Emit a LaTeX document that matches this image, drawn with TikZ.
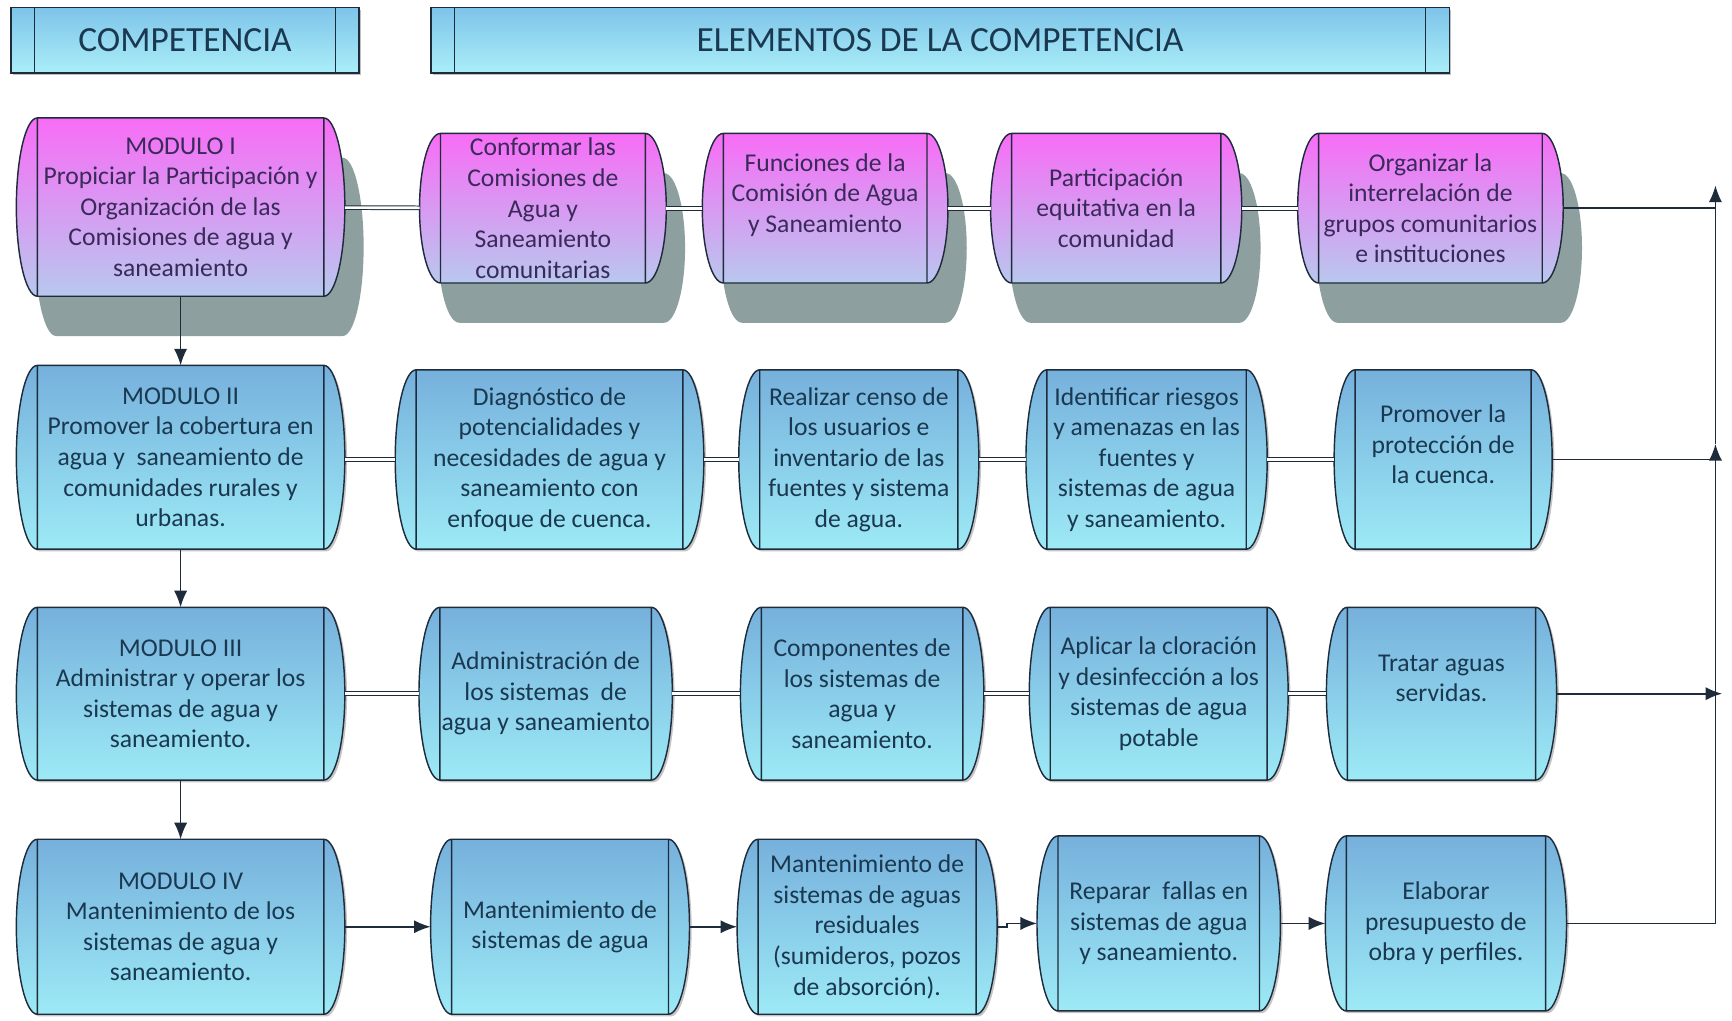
\documentclass[tikz,border=0pt]{standalone}
\usepackage{fontspec}
\setmainfont{Carlito}
\usetikzlibrary{arrows.meta,shadows,calc}
\pgfdeclarelayer{fondo}
\pgfsetlayers{fondo,main}
\definecolor{rosa}{HTML}{F86CF6}
\definecolor{lila}{HTML}{B8C8EE}
\definecolor{azul}{HTML}{76B0DC}
\definecolor{celeste}{HTML}{9DEAF6}
\definecolor{cabarriba}{HTML}{7EC4E9}
\definecolor{cababajo}{HTML}{AAEEF8}
\definecolor{borde}{HTML}{1E2B3A}
\definecolor{sombra}{HTML}{8E9F9F}
\definecolor{letraazul}{HTML}{1A3850}
\definecolor{letrarosa}{HTML}{3A2A5A}

\begin{document}
\begin{tikzpicture}[x=1pt,y=1pt,
    caja/.style={inner sep=0pt,align=center,text=letraazul,font=\fontsize{23.2}{27.7}\selectfont},
    cajarosa/.style={caja,text=letrarosa},
    tam/.style 2 args={minimum width=#1pt,minimum height=#2pt},
    titulo/.style={draw=borde,line width=1.3pt,top color=cabarriba,bottom color=cababajo,inner sep=0pt,minimum height=59pt,text=letraazul,font=\fontsize{32}{36}\selectfont,drop shadow={shadow xshift=2pt,shadow yshift=-2pt,opacity=.5}},
    forma/.style={draw=borde,line width=1.3pt},
    enlace/.style={draw=borde,line width=.9pt,double=white,double distance=2.4pt},
    linea/.style={draw=borde,line width=1.5pt},
    flecha/.style={linea,-{Latex[length=15pt,width=12pt]}}]
    \begin{pgfonlayer}{fondo}
        \fill[white] (0,0) rectangle (1568,924);
    \end{pgfonlayer}
    \useasboundingbox (0,0) rectangle (1568,924);
    % titulos
    \node[titulo,minimum width=315pt] (h1) at (167.5,887.5) {COMPETENCIA};
    \node[titulo,minimum width=922pt] (h2) at (851,887.5) {ELEMENTOS DE LA COMPETENCIA};
    \foreach \k in {h1,h2}
        \draw[borde,line width=1.3pt] ([xshift=22pt]\k.north west) -- ([xshift=22pt]\k.south west)
            ([xshift=-22pt]\k.north east) -- ([xshift=-22pt]\k.south east);
    % modulo I
    \node[cajarosa,tam={297}{161}] (m1) at (163.5,736.5) {MODULO I\\Propiciar la Participación y\\Organización de las\\Comisiones de agua y\\saneamiento};
    \node[cajarosa,tam={223}{135}] (c1) at (491.5,735.5) {Conformar las\\Comisiones de\\Agua y\\Saneamiento\\comunitarias};
    \node[cajarosa,tam={222}{135}] (c2) at (747,735.5) {Funciones de la\\Comisión de Agua\\y Saneamiento\\\mbox{}};
    \node[cajarosa,tam={227}{135}] (c3) at (1010.5,735.5) {Participación\\equitativa en la\\comunidad};
    \node[cajarosa,tam={240}{135}] (c4) at (1295,735.5) {Organizar la\\interrelación de\\grupos comunitarios\\e instituciones};
    % modulo II
    \node[caja,tam={297}{166}] (m2) at (163.5,510) {MODULO II\\Promover la cobertura en\\agua y~ saneamiento de\\comunidades rurales y\\urbanas.};
    \node[caja,tam={279}{162}] (d1) at (497.5,508) {Diagnóstico de\\potencialidades y\\necesidades de agua y\\saneamiento con\\enfoque de cuenca.};
    \node[caja,tam={217}{162}] (d2) at (777.5,508) {Realizar censo de\\los usuarios e\\inventario de las\\fuentes y sistema\\de agua.};
    \node[caja,tam={218}{162}] (d3) at (1038,508) {Identificar riesgos\\y amenazas en las\\fuentes y\\sistemas de agua\\y saneamiento.};
    \node[caja,tam={197}{162}] (d4) at (1306.5,508) {Promover la\\protección de\\la cuenca.\\\mbox{}};
    % modulo III
    \node[caja,tam={297}{156}] (m3) at (163.5,296) {MODULO III\\Administrar y operar los\\sistemas de agua y\\saneamiento.};
    \node[caja,tam={229}{156}] (a1) at (494,296) {Administración de\\los sistemas~ de\\agua y saneamiento};
    \node[caja,tam={220}{156}] (a2) at (780.5,296) {Componentes de\\los sistemas de\\agua y\\saneamiento.};
    \node[caja,tam={234}{156}] (a3) at (1049,296) {Aplicar la cloración\\y desinfección a los\\sistemas de agua\\potable};
    \node[caja,tam={208}{156}] (a4) at (1305,296) {Tratar aguas\\servidas.\\\mbox{}};
    % modulo IV
    \node[caja,tam={297}{158}] (m4) at (163.5,85) {MODULO IV\\Mantenimiento de los\\sistemas de agua y\\saneamiento.};
    \node[caja,tam={234}{158}] (b1) at (507,85) {Mantenimiento de\\sistemas de agua};
    \node[caja,tam={235}{158}] (b2) at (785,85) {Mantenimiento de\\sistemas de aguas\\residuales\\(sumideros, pozos\\de absorción).};
    \node[caja,tam={220}{158}] (b3) at (1049,88) {Reparar~ fallas en\\sistemas de agua\\y saneamiento.};
    \node[caja,tam={218}{158}] (b4) at (1309,88) {Elaborar\\presupuesto de\\obra y perfiles.};
    % formas
    \begin{pgfonlayer}{fondo}
        \foreach \k/\arriba/\abajo/\sombra in {m1/rosa/lila/1,c1/rosa/lila/1,c2/rosa/lila/1,c3/rosa/lila/1,c4/rosa/lila/1,
                m2/azul/celeste/0,d1/azul/celeste/0,d2/azul/celeste/0,d3/azul/celeste/0,d4/azul/celeste/0,
                m3/azul/celeste/0,a1/azul/celeste/0,a2/azul/celeste/0,a3/azul/celeste/0,a4/azul/celeste/0,
                m4/azul/celeste/0,b1/azul/celeste/0,b2/azul/celeste/0,b3/azul/celeste/0,b4/azul/celeste/0}
        {
            \ifnum\sombra=1
                \tikzset{sombraforma/.style={drop shadow={shadow xshift=17pt,shadow yshift=-36pt,fill=sombra,opacity=1}}}
            \else
                \tikzset{sombraforma/.style={drop shadow={shadow xshift=2pt,shadow yshift=-2pt,opacity=.45}}}
            \fi
            \path[forma,top color=\arriba,bottom color=\abajo,sombraforma]
                let \p1=(\k.north west), \p2=(\k.south east), \n1={(\y1-\y2)/2} in
                (\x1+19pt,\y1) -- (\x2-19pt,\y1)
                arc[start angle=90,end angle=-90,x radius=19pt,y radius=\n1]
                -- (\x1+19pt,\y2)
                arc[start angle=270,end angle=90,x radius=19pt,y radius=\n1] -- cycle
                (\x1+19pt,\y1) -- (\x1+19pt,\y2) (\x2-19pt,\y1) -- (\x2-19pt,\y2);
        }
    \end{pgfonlayer}
    % enlaces
    \draw[enlace] (m1) -- (c1);
    \draw[enlace] (c1) -- (c2);
    \draw[enlace] (c2) -- (c3);
    \draw[enlace] (c3) -- (c4);
    \draw[enlace] (m2.east |- d1) -- (d1);
    \draw[enlace] (d1) -- (d2);
    \draw[enlace] (d2) -- (d3);
    \draw[enlace] (d3) -- (d4);
    \draw[enlace] (m3) -- (a1);
    \draw[enlace] (a1) -- (a2);
    \draw[enlace] (a2) -- (a3);
    \draw[enlace] (a3) -- (a4);
    \draw[flecha] (m4) -- (b1);
    \draw[flecha] (b1) -- (b2);
    \draw[flecha] (b2.east) -- ++(9,0) |- (b3.west);
    \draw[flecha] (b3) -- (b4);
    \draw[flecha] (m1) -- (m2);
    \draw[flecha] (m2) -- (m3);
    \draw[flecha] (m3) -- (m4);
    % retorno
    \coordinate (tope) at (1553,756);
    \coordinate (medio) at (1553,522);
    \draw[linea] (c4) -- (c4 -| tope);
    \draw[linea] (d4) -- (d4 -| tope);
    \draw[flecha] (a4) -- ([xshift=6pt]a4 -| tope);
    \draw[flecha] (b4) -| (medio);
    \draw[flecha] (medio) -- (tope);
\end{tikzpicture}
\end{document}
